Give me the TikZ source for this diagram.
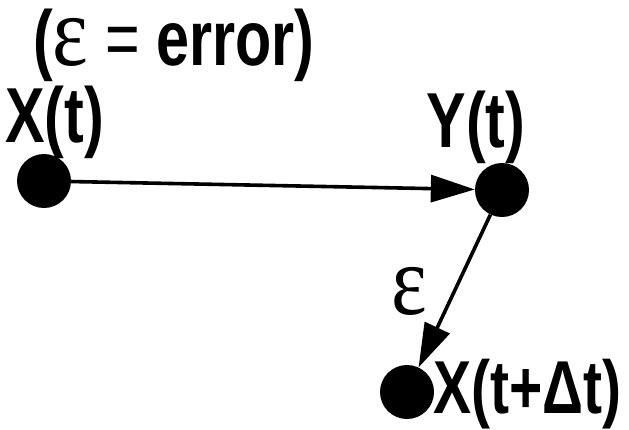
\documentclass[tikz,border=0pt]{standalone}
\usepackage{fontspec}
\setmainfont{Liberation Sans}
\newfontfamily\narrowfont[FakeStretch=0.76]{Liberation Sans}
\newfontfamily\epsfont[FakeStretch=0.85]{Liberation Serif}
\usepackage{tikz}
\usetikzlibrary{positioning,arrows.meta}

\tikzset{
  dot/.style={circle, fill=black, minimum size=54pt, inner sep=0pt},
  lbl/.style={font=\fontsize{78}{78}\narrowfont\bfseries, inner sep=0pt},
  eps/.style={font=\fontsize{100}{100}\epsfont, inner sep=0pt},
  flow/.style={line width=3.6pt, -{Triangle[length=44pt,width=27pt]}}
}

\begin{document}
\begin{tikzpicture}[x=1pt, y=-1pt]
    \useasboundingbox (0,0) rectangle (629,429);
    \node[lbl, anchor=base west] (title) at (33,65) {({\mdseries\fontsize{100}{100}\epsfont ε}\textmd{ = }error)};
    \node[dot] (xt) at (44,181) {};
    \node[dot] (yt) at (502,190) {};
    \node[dot] (xdt) at (407,392) {};
    \node[lbl, anchor=base west] (xtlbl) at (5,142) {X(t)};
    \node[lbl, anchor=base] (ytlbl) at (476,147) {Y(t)};
    \node[lbl, anchor=base west, font=\fontsize{75}{75}\narrowfont\bfseries] (xdtlbl) at (433,413) {X(t+Δt)};
    \draw[flow] (xt) -- (yt);
    \draw[flow] (yt) -- (xdt) node[eps, midway, left=26pt] (err) {ε};
  \end{tikzpicture}
\end{document}
